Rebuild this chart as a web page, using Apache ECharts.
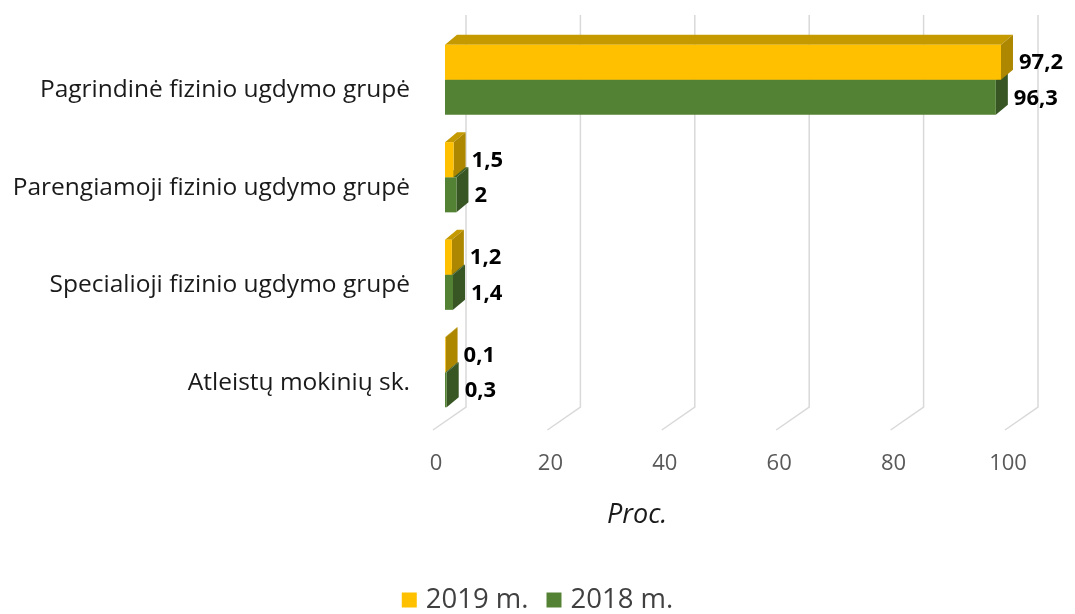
<!DOCTYPE html>
<html>
<head>
<meta charset="utf-8">
<script src="https://cdn.jsdelivr.net/npm/echarts@6/dist/echarts.min.js"></script>
<style>
  html, body { margin: 0; padding: 0; background: #fff; }
  #main { width: 1075px; height: 614px; }
</style>
</head>
<body>
<div id="main"></div>
<script>
// duomenys
var categories = ['Pagrindinė fizinio ugdymo grupė', 'Parengiamoji fizinio ugdymo grupė', 'Specialioji fizinio ugdymo grupė', 'Atleistų mokinių sk.'];
var values2019 = [97.2, 1.5, 1.2, 0.1];
var values2018 = [96.3, 2, 1.4, 0.3];
var xTicks = [0, 20, 40, 60, 80, 100];

var FONT = '"Open Sans", sans-serif';
var DX = 12, DY = 10; // 3d gylis

function fmt(v) {
    return String(v).replace('.', ',');
}

// 3d stulpelis: priekis, virsus, sonas
function barRenderer(slot, cFront, cTop, cSide) {
    return function (params, api) {
        var v = api.value(0), c = api.value(1);
        var p0 = api.coord([0, c]);
        var p1 = api.coord([v, c]);
        var band = api.size([0, 1])[1];
        var h = band * 0.36;
        var x0 = p0[0], w = p1[0] - p0[0];
        var y0 = slot === 0 ? p0[1] - h : p0[1];
        return {
            type: 'group',
            children: [
                { type: 'polygon', shape: { points: [[x0, y0], [x0 + w, y0], [x0 + w + DX, y0 - DY], [x0 + DX, y0 - DY]] }, style: { fill: cTop } },
                { type: 'polygon', shape: { points: [[x0 + w, y0], [x0 + w + DX, y0 - DY], [x0 + w + DX, y0 + h - DY], [x0 + w, y0 + h]] }, style: { fill: cSide } },
                { type: 'rect', shape: { x: x0, y: y0, width: w, height: h }, style: { fill: cFront } },
                { type: 'text', x: x0 + w + DX + 6, y: y0 + h / 2 + 1, style: { text: fmt(v), fill: '#000', font: 'bold 22px ' + FONT, verticalAlign: 'middle' } }
            ]
        };
    };
}

// tinklelio linijos (galine siena + grindys)
function gridRenderer(params, api) {
    var cs = params.coordSys;
    var p = api.coord([api.value(0), 0]);
    var xb = p[0] + 21;
    var yt = cs.y - 16, yb = cs.y + cs.height - 14, yf = cs.y + cs.height + 9;
    return {
        type: 'polyline',
        shape: { points: [[xb, yt], [xb, yb], [xb - 33, yf]] },
        style: { stroke: '#d9d9d9', lineWidth: 1.5, fill: null }
    };
}

var myChart = echarts.init(document.getElementById('main'));

var option = {
    animation: false,
    backgroundColor: '#fff',
    grid: [
        { left: 445, right: 58, top: 31, bottom: 193 },
        { left: 436, right: 67, top: 41, bottom: 182 }
    ],
    xAxis: [
        { type: 'value', gridIndex: 0, min: 0, max: 100, show: false },
        {
            type: 'value', gridIndex: 1, min: 0, max: 100, interval: 20,
            axisLine: { show: false }, axisTick: { show: false }, splitLine: { show: false },
            axisLabel: { color: '#595959', fontSize: 22, fontFamily: FONT, margin: 21 }
        }
    ],
    yAxis: [
        { type: 'category', gridIndex: 0, data: categories, inverse: true, show: false },
        {
            type: 'category', gridIndex: 1, data: categories, inverse: true,
            axisLine: { show: false }, axisTick: { show: false },
            axisLabel: { color: '#1a1a1a', fontSize: 24.5, fontFamily: FONT, margin: 26 }
        }
    ],
    legend: {
        data: ['2019 m.', '2018 m.'],
        bottom: -5,
        left: 'center',
        icon: 'rect',
        itemWidth: 15,
        itemHeight: 15,
        itemGap: 18,
        textStyle: { color: '#404040', fontSize: 27.5, fontFamily: FONT, padding: [0, 0, 0, 4] }
    },
    graphic: [
        { type: 'text', left: 607, top: 502, style: { text: 'Proc.', fill: '#1a1a1a', font: 'italic 27px ' + FONT } }
    ],
    series: [
        {
            type: 'custom', name: 'grid', xAxisIndex: 0, yAxisIndex: 0, clip: false, silent: true, z: 1,
            renderItem: gridRenderer,
            data: xTicks.map(function (t) { return [t, 0]; })
        },
        {
            type: 'custom', name: '2018 m.', xAxisIndex: 0, yAxisIndex: 0, clip: false, z: 2,
            itemStyle: { color: '#548235' },
            renderItem: barRenderer(1, '#548235', '#3f6228', '#375623'),
            encode: { x: 0, y: 1 },
            data: values2018.map(function (v, i) { return [v, i]; })
        },
        {
            type: 'custom', name: '2019 m.', xAxisIndex: 0, yAxisIndex: 0, clip: false, z: 3,
            itemStyle: { color: '#ffc000' },
            renderItem: barRenderer(0, '#ffc000', '#c49a00', '#ad8700'),
            encode: { x: 0, y: 1 },
            data: values2019.map(function (v, i) { return [v, i]; })
        }
    ]
};

myChart.setOption(option);
</script>
</body>
</html>
